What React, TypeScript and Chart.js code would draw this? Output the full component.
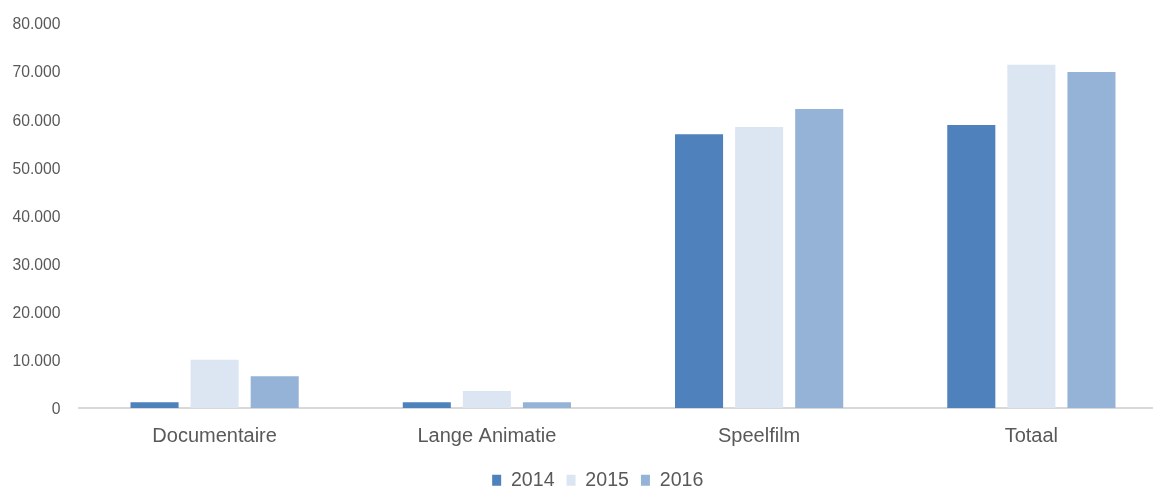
import React, { useEffect, useRef } from "react";
import { Chart, registerables } from "chart.js";

Chart.register(...registerables);

const categories = ["Documentaire", "Lange Animatie", "Speelfilm", "Totaal"];
const seriesLabels = ["2014", "2015", "2016"];
const values2014 = [1200, 1200, 56900, 58800];
const values2015 = [10000, 3500, 58400, 71300];
const values2016 = [6600, 1200, 62100, 69800];
const colors = ["#4F81BD", "#DCE6F2", "#95B3D7"];
const yTicks = [0, 10000, 20000, 30000, 40000, 50000, 60000, 70000, 80000];

const FONT = "'Liberation Sans', Arial, Helvetica, sans-serif";
const TEXT = "#595959";

function fmt(v: number): string {
  return String(Math.round(v)).replace(/\B(?=(\d{3})+(?!\d))/g, ".");
}

const shiftLegend = {
  id: "shiftLegend",
  afterLayout(chart: any) {
    const lg = chart.legend;
    if (lg) {
      lg.left += 14;
      lg.right += 14;
    }
  },
};

export default function App() {
  const ref = useRef<HTMLCanvasElement | null>(null);
  useEffect(() => {
    if (!ref.current) return;
    const seriesValues = [values2014, values2015, values2016];
    const chart = new Chart(ref.current, {
      type: "bar",
      data: {
        labels: categories,
        datasets: seriesLabels.map((l, i) => ({
          label: l,
          data: seriesValues[i],
          backgroundColor: colors[i],
          borderWidth: 0,
          categoryPercentage: 0.662,
          barPercentage: 0.8,
        })),
      },
      plugins: [shiftLegend],
      options: {
        responsive: false,
        animation: false,
        layout: { padding: { top: 23, left: 0, right: 25.5, bottom: 0 } },
        plugins: {
          tooltip: { enabled: false },
          legend: {
            position: "bottom",
            labels: {
              boxWidth: 9,
              boxHeight: 11,
              padding: 12,
              color: TEXT,
              font: { family: FONT, size: 19.6 },
            },
          },
        },
        scales: {
          x: {
            grid: { display: false, drawTicks: false },
            border: { display: true, color: "#d9d9d9", width: 2 },
            ticks: {
              color: TEXT,
              font: { family: FONT, size: 20 },
              padding: 17,
              maxRotation: 0,
            },
            afterFit: (s: any) => {
              s.height = 50.5;
            },
          },
          y: {
            min: 0,
            max: 80000,
            afterBuildTicks: (s: any) => {
              s.ticks = yTicks.map((v) => ({ value: v }));
            },
            grid: { display: false, drawTicks: true, tickLength: 18 },
            border: { display: false },
            ticks: {
              color: TEXT,
              font: { family: FONT, size: 15.7 },
              padding: 0,
              labelOffset: 2,
              callback: (v: any) => fmt(Number(v)),
            },
            afterFit: (s: any) => {
              s.width = 78.5;
            },
          },
        },
      },
    });
    return () => chart.destroy();
  }, []);
  return (
    <div
      style={{
        position: "fixed",
        left: 0,
        top: 0,
        width: 1153,
        height: 489,
        overflow: "hidden",
        background: "#fff",
      }}
    >
      <canvas ref={ref} width={1193} height={500} style={{ display: "block" }} />
    </div>
  );
}
